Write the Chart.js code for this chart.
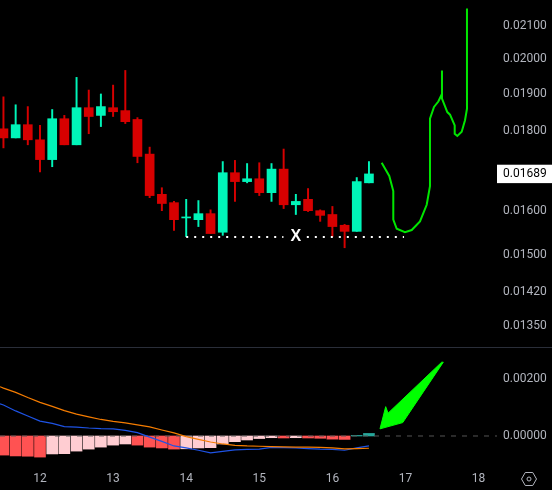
<!DOCTYPE html>
<html>
<head>
<meta charset="utf-8">
<script src="https://cdn.jsdelivr.net/npm/chart.js@4/dist/chart.umd.min.js"></script>
<style>
  html, body { margin: 0; background: #000; overflow: hidden; }
  canvas { position: absolute; left: 0; }
  #priceChart { top: 0; }
  #macdChart { top: 348px; }
  #divider { position: absolute; left: 0; top: 347px; width: 552px; height: 1px; background: #2a2e39; }
</style>
</head>
<body>
<canvas id="priceChart" width="552" height="347"></canvas>
<div id="divider"></div>
<canvas id="macdChart" width="552" height="142"></canvas>
<script>
// 4h candles, x is the day of the month
const days = [11.5, 11.667, 11.833, 12, 12.167, 12.333, 12.5, 12.667, 12.833, 13, 13.167, 13.333, 13.5, 13.667, 13.833, 14, 14.167, 14.333, 14.5, 14.667, 14.833, 15, 15.167, 15.333, 15.5, 15.667, 15.833, 16, 16.167, 16.333, 16.5];
const opens = [.01805, .01781, .01816, .01776, .01725, .01832, .01763, .01862, .01841, .01862, .01854, .0183, .01739, .01639, .01619, .01583, .01579, .01593, .0155, .01692, .0167, .01677, .01643, .01701, .01614, .01627, .016, .01591, .01566, .01552, .01667];
const highs = [.01892, .0187, .01865, .01814, .01857, .01841, .01947, .01911, .019, .01925, .01967, .01835, .01757, .01655, .01622, .01627, .01624, .01602, .0172, .01723, .01715, .01717, .01715, .01752, .01639, .01653, .01602, .0161, .01568, .0168, .0172];
const lows = [.01755, .01781, .01763, .01694, .01707, .01763, .01763, .01792, .01811, .01838, .01819, .01717, .01631, .016, .01554, .0154, .01563, .01547, .01543, .01622, .01667, .01636, .01622, .01605, .01591, .01598, .01575, .0154, .01515, .01552, .01667];
const closes = [.01781, .01816, .01776, .01725, .01832, .01763, .01862, .01838, .01865, .01851, .01824, .01733, .01636, .01617, .01579, .01584, .01593, .01547, .01692, .0167, .01677, .01643, .01701, .01614, .01622, .016, .01589, .01563, .01552, .0167, .01689];

// hand drawn projection on the price panel
const curveDays = [16.674, 16.778, 16.833, 16.833, 16.88, 16.993, 17.085, 17.198, 17.29, 17.335, 17.335, 17.39, 17.449, 17.499, 17.499, 17.499, 17.572, 17.609, 17.673, 17.673, 17.709, 17.769, 17.814, 17.841, 17.841];
const curvePrices = [.01717, .01684, .01647, .01579, .01558, .0155, .01555, .01575, .01614, .01659, .01832, .01864, .01879, .019, .01967, .01887, .0185, .01843, .01814, .01792, .01786, .01797, .01828, .01859, .02155];

const dotsLeftDays = [14, 15.33];
const dotsRightDays = [15.65, 16.98];
const dotsPrices = [.01539, .01539];
const markDay = 15.5;
const markPrice = .01539;

const priceTicks = [.021, .02, .019, .018, .01689, .016, .015, .0142, .0135];
const lastPrice = .01689;

// MACD panel
const histValues = [-.00067, -.0007, -.00071, -.00074, -.00063, -.00062, -.00053, -.00046, -.00039, -.00032, -.00028, -.00032, -.00039, -.00042, -.00046, -.00045, -.00042, -.00041, -.00028, -.0002, -.00014, -.00009, -.00006, -.00007, -.00006, -.00007, -.00008, -.00011, -.00012, .00002, .00009];
const macdDays = [11.453, ...days];
const macdLine = [.00113, .00109, .00088, .0007, .00052, .00044, .00033, .00031, .00028, .00026, .00025, .0002, .00012, -.00004, -.00019, -.00035, -.00042, -.0005, -.00059, -.00054, -.00049, -.00047, -.00046, -.0004, -.00041, -.00042, -.00044, -.00046, -.00047, -.0005, -.00042, -.00035];
const signalLine = [.00173, .00168, .00153, .00135, .00118, .00104, .00089, .00077, .00067, .00058, .00051, .00046, .00039, .00032, .00021, .00011, -.00002, -.00012, -.00021, -.00028, -.00033, -.00035, -.00036, -.00037, -.00038, -.00039, -.00039, -.0004, -.00042, -.00045, -.00044, -.00043];
const arrowDays = [16.651, 16.962, 17.517, 17.495, 16.761, 16.729, 16.651];
const arrowValues = [.00025, .00047, .00259, .00259, .0008, .00103, .00025];
const macdTicks = [.002, 0];
const dayTicks = [12, 13, 14, 15, 16, 17, 18];

const UP = '#00f5b9', DOWN = '#d70000', GREEN = '#00e600';
const AXIS_COLOR = '#b2b5be';
const AXIS_FONT = { family: 'Roboto', size: 12 };
const X_MIN = 11.4528, X_MAX = 18.2517;
const AXIS_WIDTH = 55;

const pairs = (xs, ys) => xs.map((x, i) => ({ x: x, y: ys[i] }));
const candleColors = opens.map((o, i) => closes[i] >= o ? UP : DOWN);
const histColors = histValues.map((v, i) => {
    if (v > 0) return '#26a69a';
    return i === 0 || v <= histValues[i - 1] ? '#ff5252' : '#ffcdd2';
});

const lineStyle = { type: 'line', pointRadius: 0, tension: 0, fill: false };

function valueAxis(ticks, extra) {
    return Object.assign({
        position: 'right',
        grid: { display: false, drawTicks: false },
        border: { display: false },
        afterFit: scale => {
            scale.width = AXIS_WIDTH;
            // no room for half a label above and below the plot
            scale.paddingTop = 0;
            scale.paddingBottom = 0;
        },
        afterBuildTicks: scale => { scale.ticks = ticks.map(v => ({ value: v })); },
        ticks: {
            autoSkip: false,
            padding: 6,
            font: AXIS_FONT,
            color: AXIS_COLOR,
            callback: v => Number(v).toFixed(5)
        }
    }, extra);
}

const commonOptions = {
    responsive: false,
    animation: false,
    layout: { padding: 0 },
    plugins: { legend: { display: false }, tooltip: { enabled: false } }
};

// the X mark on the dotted line
const markLabel = {
    id: 'markLabel',
    afterDatasetsDraw(chart) {
        const ctx = chart.ctx;
        ctx.save();
        ctx.fillStyle = '#fff';
        ctx.font = 'bold 16px "Liberation Sans"';
        ctx.textAlign = 'center';
        ctx.textBaseline = 'middle';
        ctx.fillText('X', chart.scales.x.getPixelForValue(markDay), chart.scales.y.getPixelForValue(markPrice));
        ctx.restore();
    }
};

// settings icon in the corner
const settingsIcon = {
    id: 'settingsIcon',
    afterDraw(chart) {
        const ctx = chart.ctx, cx = 529, cy = 131, r = 7.5;
        ctx.save();
        ctx.strokeStyle = AXIS_COLOR;
        ctx.lineWidth = 1;
        ctx.beginPath();
        for (let a = 0; a < 6; a++) {
            const t = a * Math.PI / 3;
            ctx.lineTo(cx + r * Math.cos(t), cy + r * Math.sin(t));
        }
        ctx.closePath();
        ctx.moveTo(cx + 2, cy);
        ctx.arc(cx, cy, 2, 0, Math.PI * 2);
        ctx.stroke();
        ctx.restore();
    }
};

new Chart(document.getElementById('priceChart').getContext('2d'), {
    type: 'bar',
    plugins: [markLabel],
    data: {
        datasets: [
            Object.assign({}, lineStyle, { data: pairs(curveDays, curvePrices), borderColor: GREEN, borderWidth: 2 }),
            Object.assign({}, lineStyle, { data: pairs(dotsLeftDays, dotsPrices), borderColor: '#fff', borderWidth: 2, borderDash: [2, 6] }),
            Object.assign({}, lineStyle, { data: pairs(dotsRightDays, dotsPrices), borderColor: '#fff', borderWidth: 2, borderDash: [2, 6] }),
            {
                data: days.map((d, i) => ({ x: d, y: [opens[i], closes[i]] })),
                backgroundColor: candleColors, barThickness: 9, minBarLength: 1, grouped: false
            },
            {
                data: days.map((d, i) => ({ x: d, y: [lows[i], highs[i]] })),
                backgroundColor: candleColors, barThickness: 1.3, grouped: false
            }
        ]
    },
    options: Object.assign({}, commonOptions, {
        scales: {
            x: { type: 'linear', min: X_MIN, max: X_MAX, offset: false, display: false },
            y: valueAxis(priceTicks, {
                type: 'logarithmic',
                min: .01309,
                max: .02182,
                bounds: 'data',
                ticks: {
                    autoSkip: false,
                    padding: 6,
                    font: AXIS_FONT,
                    color: c => c.tick.value === lastPrice ? '#000' : AXIS_COLOR,
                    showLabelBackdrop: c => c.tick.value === lastPrice,
                    backdropColor: '#fff',
                    backdropPadding: { left: 8, right: 6, top: 2, bottom: 2 },
                    callback: v => Number(v).toFixed(5)
                }
            })
        }
    })
});

new Chart(document.getElementById('macdChart').getContext('2d'), {
    type: 'bar',
    plugins: [settingsIcon],
    data: {
        datasets: [
            Object.assign({}, lineStyle, { data: pairs(arrowDays, arrowValues), borderColor: '#00ff00', backgroundColor: '#00ff00', borderWidth: 1, fill: 'shape' }),
            Object.assign({}, lineStyle, { data: pairs(macdDays, signalLine), borderColor: '#f57c00', borderWidth: 1.2 }),
            Object.assign({}, lineStyle, { data: pairs(macdDays, macdLine), borderColor: '#1e53e5', borderWidth: 1.2 }),
            Object.assign({}, lineStyle, { data: pairs([X_MIN, X_MAX], [0, 0]), borderColor: '#555', borderWidth: 1, borderDash: [5, 6] }),
            { data: pairs(days, histValues), backgroundColor: histColors, barThickness: 11, grouped: false }
        ]
    },
    options: Object.assign({}, commonOptions, {
        scales: {
            x: {
                type: 'linear',
                min: X_MIN,
                max: X_MAX,
                offset: false,
                grid: { display: false, drawTicks: false },
                border: { display: false },
                afterFit: scale => { scale.height = 25; },
                afterBuildTicks: scale => { scale.ticks = dayTicks.map(v => ({ value: v })); },
                ticks: { autoSkip: false, maxRotation: 0, padding: 7, font: AXIS_FONT, color: AXIS_COLOR, callback: v => String(v) }
            },
            y: valueAxis(macdTicks, { type: 'linear', min: -.001018, max: .003088 })
        }
    })
});
</script>
</body>
</html>
